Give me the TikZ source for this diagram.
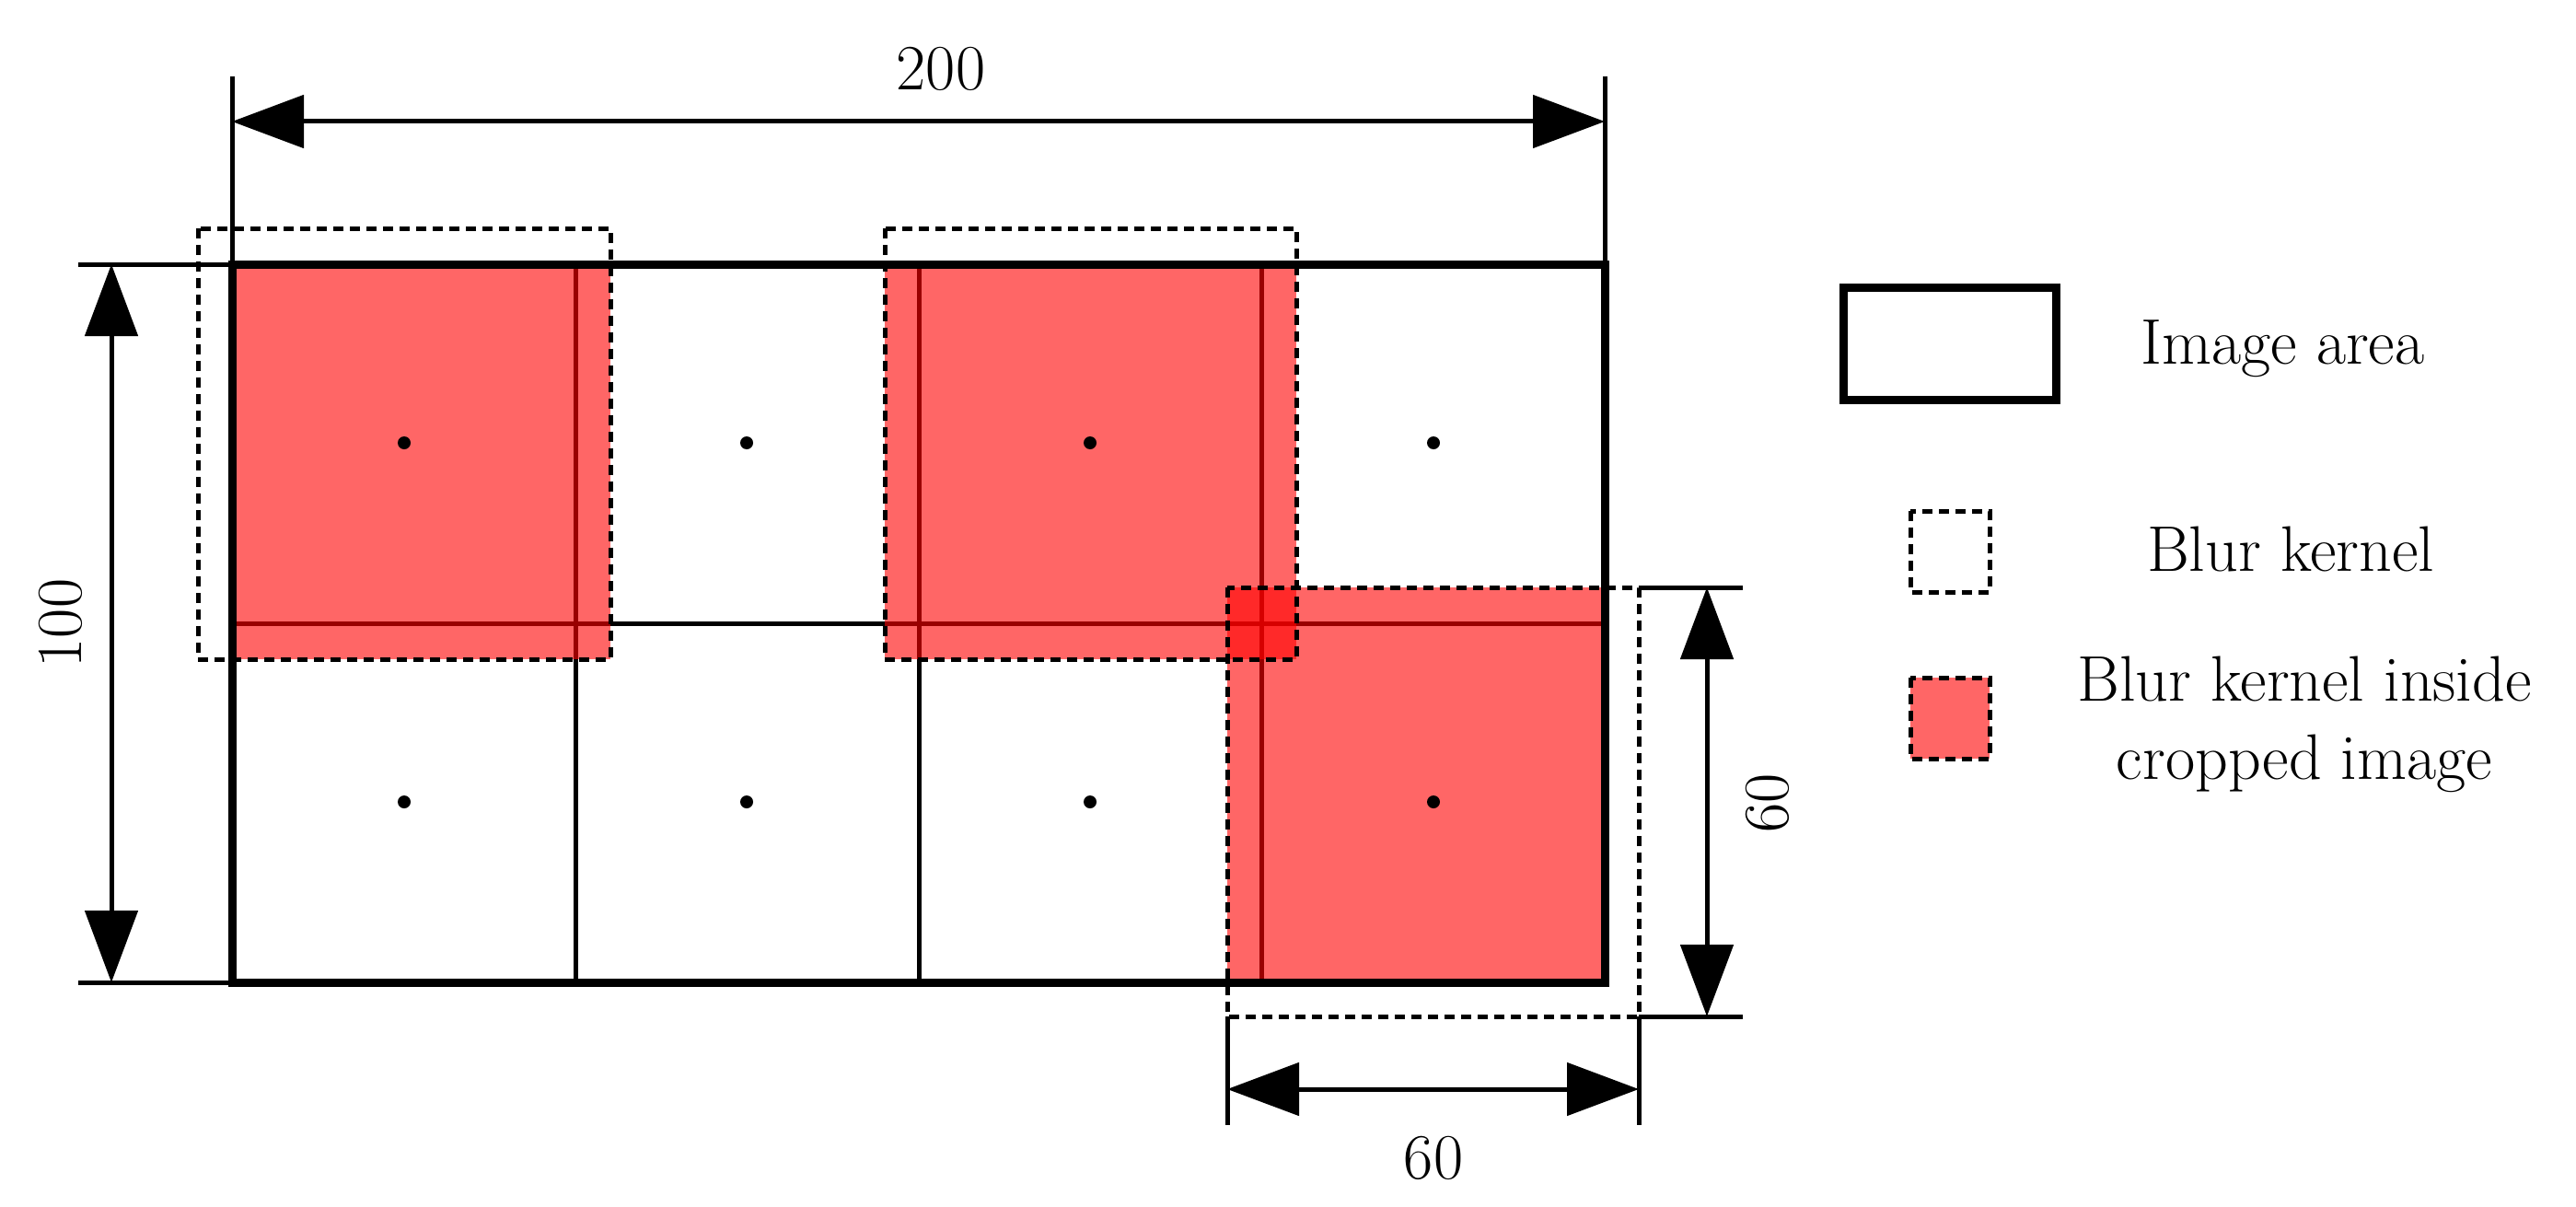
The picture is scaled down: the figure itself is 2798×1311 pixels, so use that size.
\documentclass[tikz,border=0pt]{standalone}
\usetikzlibrary{arrows.meta}
\begin{document}
\begin{tikzpicture}[x=1pt,y=-1pt,
  thickbox/.style={line width=9pt,line join=miter},
  gridline/.style={line width=5pt},
  kernel/.style={line width=5pt,dash pattern=on 11pt off 7pt},
  redfill/.style={fill=red,fill opacity=0.6},
  dimline/.style={line width=5pt},
  dimarrow/.style={line width=5pt,{Triangle[length=78pt,width=57pt]}-{Triangle[length=78pt,width=57pt]}},
  lbl/.style={font=\fontsize{70}{84}\selectfont,inner sep=0pt},
  dot/.style={circle,fill=black,inner sep=0pt,minimum size=14pt}]
\useasboundingbox (0,0) rectangle (2798,1311);
% grid
\draw[gridline] (625,287) -- (625,1067) (998,287) -- (998,1067) (1370,287) -- (1370,1067);
\draw[gridline] (252,677) -- (1743,677);
% red fills
\fill[redfill] (252,287) rectangle (663,716);
\fill[redfill] (961,287) rectangle (1408,716);
\fill[redfill] (1333,638) rectangle (1743,1067);
% image border
\draw[thickbox] (252,287) rectangle (1743,1067);
% kernels
\draw[kernel] (215,248) rectangle (663,716);
\draw[kernel] (961,248) rectangle (1408,716);
\draw[kernel] (1333,638) rectangle (1780,1104);
% dots
\foreach \x/\n in {439/a,811/b,1184/c,1557/d}{
  \node[dot] (t\n) at (\x,481) {};
  \node[dot] (b\n) at (\x,871) {};
}
% dimensions top
\coordinate (tl) at (252,83); \coordinate (tr) at (1743,83);
\draw[dimline] (tl) -- (252,287) (tr) -- (1743,287);
\coordinate (al) at (252,132); \coordinate (ar) at (1743,132);
\draw[dimarrow] (al) -- (ar);
\node[lbl] (l200) at (1022,75) {200};
% left
\draw[dimline] (85,287) -- (252,287) (85,1067) -- (252,1067);
\coordinate (lt) at (121,287); \coordinate (lb) at (121,1067);
\draw[dimarrow] (lt) -- (lb);
\node[lbl,rotate=90] (l100) at (66,677) {100};
% right 60
\draw[dimline] (1780,638) -- (1893,638) (1780,1104) -- (1893,1104);
\coordinate (rt) at (1854,638); \coordinate (rb) at (1854,1104);
\draw[dimarrow] (rt) -- (rb);
\node[lbl,rotate=90] (l60a) at (1920,872) {60};
% bottom 60
\draw[dimline] (1333,1104) -- (1333,1222) (1780,1104) -- (1780,1222);
\coordinate (bl) at (1333,1183); \coordinate (br) at (1780,1183);
\draw[dimarrow] (bl) -- (br);
\node[lbl] (l60b) at (1557,1258) {60};
% legend
\draw[thickbox] (2002,312) rectangle (2233,434);
\node[lbl,anchor=base west] (li) at (2325,395) {Image area};
\draw[kernel] (2075,555) rectangle (2161,643);
\node[lbl,anchor=base] (lk) at (2488,620) {Blur kernel};
\fill[redfill] (2075,736) rectangle (2161,824);
\draw[kernel] (2075,736) rectangle (2161,824);
\node[lbl,anchor=base] (lr1) at (2503,761) {Blur kernel inside};
\node[lbl,anchor=base] (lr2) at (2503,846) {cropped image};
\end{tikzpicture}
\end{document}
